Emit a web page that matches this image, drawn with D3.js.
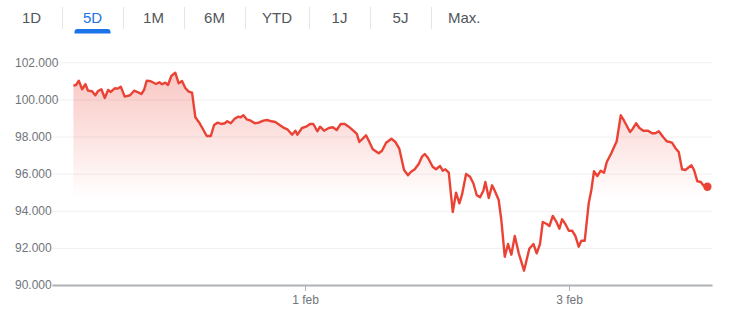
<!DOCTYPE html>
<html>
<head>
<meta charset="utf-8">
<script src="https://cdn.jsdelivr.net/npm/d3@7"></script>
<style>
  body { margin: 0; background: #fff; }
  svg { display: block; font-family: Arial, "Liberation Sans", sans-serif; }
</style>
</head>
<body>
<script>
// Range tabs above the chart
var tabs = ["1D", "5D", "1M", "6M", "YTD", "1J", "5J", "Max."];
var activeTab = "5D";

// Time in days relative to 1 feb (trading time)
var times = [
  -1.755, -1.735, -1.714, -1.689, -1.664, -1.644, -1.614, -1.589, -1.568, -1.543,
  -1.517, -1.492, -1.472, -1.442, -1.422, -1.396, -1.366, -1.326, -1.295, -1.260,
  -1.240, -1.220, -1.199, -1.169, -1.129, -1.104, -1.083, -1.058, -1.038, -1.013,
  -0.983, -0.957, -0.932, -0.907, -0.881, -0.856, -0.831, -0.801, -0.770, -0.745,
  -0.714, -0.689, -0.664, -0.634, -0.608, -0.589, -0.563, -0.533, -0.508, -0.487,
  -0.467, -0.442, -0.411, -0.381, -0.351, -0.316, -0.286, -0.255, -0.225, -0.195,
  -0.159, -0.134, -0.098, -0.073, -0.058, -0.023, 0.008, 0.038, 0.063, 0.093,
  0.114, 0.144, 0.180, 0.210, 0.240, 0.270, 0.301, 0.331, 0.366, 0.392,
  0.411, 0.462, 0.483, 0.513, 0.558, 0.583, 0.614, 0.654, 0.684, 0.714,
  0.750, 0.780, 0.801, 0.831, 0.861, 0.886, 0.907, 0.932, 0.967, 0.992,
  1.023, 1.043, 1.063, 1.089, 1.119, 1.144, 1.169, 1.189, 1.220, 1.250,
  1.275, 1.301, 1.326, 1.351, 1.366, 1.392, 1.417, 1.437, 1.467, 1.487,
  1.513, 1.538, 1.563, 1.589, 1.619, 1.659, 1.699, 1.730, 1.755, 1.780,
  1.801, 1.831, 1.851, 1.877, 1.902, 1.927, 1.947, 1.972, 1.998, 2.023,
  2.048, 2.073, 2.093, 2.119, 2.149, 2.169, 2.189, 2.214, 2.240, 2.265,
  2.286, 2.320, 2.361, 2.392, 2.417, 2.462, 2.483, 2.508, 2.533, 2.563,
  2.598, 2.629, 2.654, 2.680, 2.714, 2.740, 2.780, 2.805, 2.831, 2.856,
  2.881, 2.927, 2.947, 2.972, 2.998, 3.017, 3.048
];

var prices = [
  100738, 100776, 101008, 100544, 100814, 100469, 100437, 100221, 100453, 100544,
  100076, 100507, 100399, 100598, 100577, 100685, 100146, 100221, 100469, 100361,
  100291, 100507, 101008, 100975, 100830, 100921, 100814, 100900, 100776, 101261,
  101439, 100868, 100992, 100614, 100415, 100361, 99036, 98745, 98351, 98028,
  98028, 98621, 98745, 98675, 98712, 98820, 98712, 98960, 99068, 99036,
  99143, 98928, 98852, 98712, 98745, 98852, 98890, 98820, 98782, 98637,
  98459, 98389, 98098, 98314, 98098, 98459, 98529, 98675, 98675, 98281,
  98529, 98314, 98459, 98497, 98351, 98675, 98675, 98529, 98314, 98136,
  97705, 98066, 97775, 97312, 97096, 97236, 97667, 97883, 97705, 97344,
  96196, 95911, 96088, 96234, 96519, 96913, 97058, 96843, 96374, 96234,
  96412, 96158, 96234, 96051, 93933, 94973, 94402, 94865, 95981, 95835,
  95480, 94833, 94725, 95081, 95550, 94688, 95372, 95081, 94580, 93502,
  91525, 92209, 91633, 92640, 91708, 90770, 91956, 92209, 91708, 92209,
  93394, 93287, 93179, 93718, 93432, 93033, 93540, 93287, 92926, 92926,
  92640, 92064, 92387, 92387, 94402, 95119, 96126, 95873, 96158, 96051,
  96627, 97096, 97743, 99143, 98852, 98244, 98421, 98712, 98459, 98314,
  98314, 98174, 98174, 98281, 97958, 97743, 97667, 97382, 97166, 96234,
  96196, 96450, 96196, 95587, 95550, 95372, 95296
];

// Axis ticks
var yTicks = [90000, 92000, 94000, 96000, 98000, 100000, 102000];
var xTickValues = [0, 2];
var xTickLabels = ["1 feb", "3 feb"];

var width = 750,
    height = 315;

var svg = d3.select("body")
    .append("svg")
    .attr("width", width)
    .attr("height", height);

// ---- tabs ----
var tabGroup = svg.append("g").attr("class", "tabs");
var tabX = 1;
tabs.forEach(function(label, i) {
    var t = tabGroup.append("text")
        .attr("y", 23)
        .attr("text-anchor", "middle")
        .style("font-size", "15px")
        .attr("fill", label === activeTab ? "#1a73e8" : "#51565b")
        .text(label);
    var w = Math.max(61, t.node().getComputedTextLength() + 34);
    t.attr("x", tabX + w / 2);
    if (label === activeTab) {
        tabGroup.append("path")
            .attr("d", "M" + (tabX + w / 2 - 18) + ",33.5 v-1.5 a3,3 0 0 1 3,-3 h30 a3,3 0 0 1 3,3 v1.5 z")
            .attr("fill", "#1a73e8");
    }
    tabX += w;
    if (i < tabs.length - 1) {
        tabGroup.append("line")
            .attr("x1", tabX + 0.5).attr("x2", tabX + 0.5)
            .attr("y1", 7).attr("y2", 29)
            .attr("stroke", "#e3e5e8");
    }
});

// ---- scales ----
var x = d3.scaleLinear()
    .domain([-1.917, 3.083])
    .range([52, 712]);

var y = d3.scaleLinear()
    .domain([90000, 103000])
    .range([285, 43.7]);

var nl = d3.formatLocale({ decimal: ",", thousands: ".", grouping: [3], currency: ["€", ""] });
var fmt = nl.format(",.0f");

// gridlines
svg.append("g")
    .attr("class", "grid")
    .attr("transform", "translate(712,0)")
    .call(d3.axisLeft(y).tickValues(yTicks.slice(1)).tickSize(660).tickFormat(""))
    .call(function(g) {
        g.select(".domain").remove();
        g.selectAll("line").attr("stroke", "#f0f0f0");
    });

// y labels, left aligned
svg.append("g")
    .attr("class", "y-axis")
    .attr("transform", "translate(15,0)")
    .call(d3.axisRight(y).tickValues(yTicks).tickSize(0).tickPadding(0).tickFormat(fmt))
    .call(function(g) {
        g.select(".domain").remove();
        g.selectAll("text")
            .attr("fill", "#70757a")
            .style("font-size", "12px")
            .style("font-family", "Arial, 'Liberation Sans', sans-serif");
    });

// ---- area + line ----
var data = times.map(function(t, i) { return { t: t, v: prices[i] }; });

var grad = svg.append("defs").append("linearGradient")
    .attr("id", "fade")
    .attr("gradientUnits", "userSpaceOnUse")
    .attr("x1", 0).attr("x2", 0)
    .attr("y1", y(101500)).attr("y2", y(94600));
grad.append("stop").attr("offset", "0%").attr("stop-color", "#ea4335").attr("stop-opacity", 0.3);
grad.append("stop").attr("offset", "100%").attr("stop-color", "#ea4335").attr("stop-opacity", 0);

var area = d3.area()
    .x(function(d) { return x(d.t); })
    .y0(y(90000))
    .y1(function(d) { return y(d.v); });

var line = d3.line()
    .x(function(d) { return x(d.t); })
    .y(function(d) { return y(d.v); });

svg.append("path")
    .datum(data)
    .attr("d", area)
    .attr("fill", "url(#fade)");

// x axis
svg.append("g")
    .attr("class", "x-axis")
    .attr("transform", "translate(0," + y(90000) + ")")
    .call(d3.axisBottom(x).tickValues(xTickValues).tickSizeInner(6).tickSizeOuter(0).tickPadding(4)
        .tickFormat(function(d, i) { return xTickLabels[i]; }))
    .call(function(g) {
        g.select(".domain").attr("stroke", "#aeb2b6").attr("stroke-width", 2);
        g.selectAll(".tick line").attr("stroke", "#aeb2b6");
        g.selectAll("text")
            .attr("fill", "#70757a")
            .style("font-size", "12px")
            .style("font-family", "Arial, 'Liberation Sans', sans-serif");
    });

svg.append("path")
    .datum(data)
    .attr("d", line)
    .attr("fill", "none")
    .attr("stroke", "#ea4335")
    .attr("stroke-width", 2.4)
    .attr("stroke-linejoin", "round");

var last = data[data.length - 1];
svg.append("circle")
    .attr("cx", x(last.t))
    .attr("cy", y(last.v))
    .attr("r", 4.2)
    .attr("fill", "#ea4335");
</script>
</body>
</html>
